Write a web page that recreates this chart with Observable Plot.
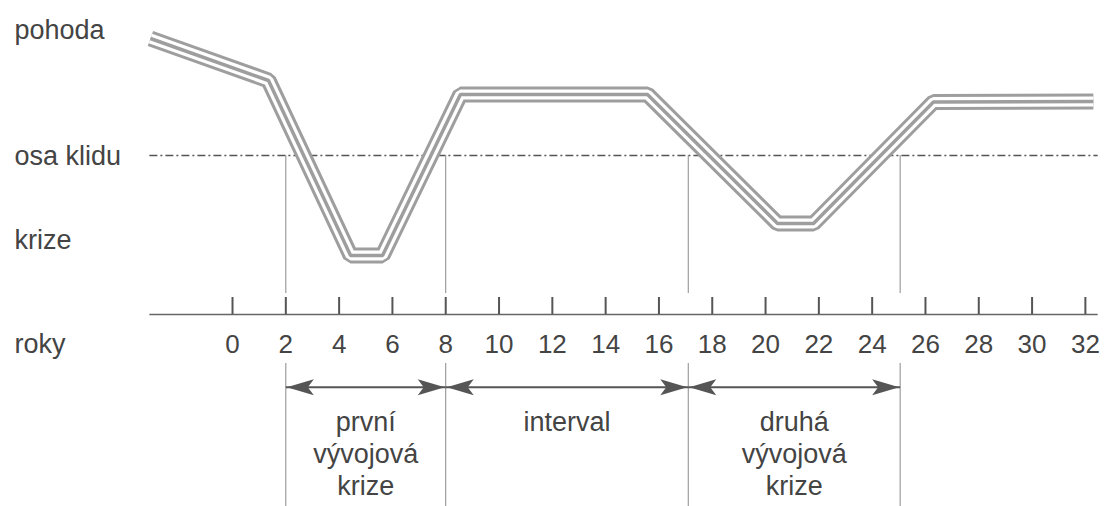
<!DOCTYPE html>
<html>
<head>
<meta charset="utf-8">
<script src="https://cdn.jsdelivr.net/npm/d3@7"></script>
<script src="https://cdn.jsdelivr.net/npm/@observablehq/plot@0.6"></script>
<style>
  html, body { margin: 0; padding: 0; background: #fff; }
  #chart svg { display: block; }
</style>
</head>
<body>
<div id="chart"></div>
<script>
// ---- data ----
// life course line: years vs. level (osa klidu = 0)
const courseYears  = [-3.08, 1.35, 4.43, 5.63, 8.55, 15.57, 20.45, 21.80, 26.30, 32.30];
const courseLevels = [11.7, 7.5, -10.0, -10.0, 6.1, 6.1, -6.8, -6.8, 5.35, 5.4];

// year axis
const yearTicks = [0, 2, 4, 6, 8, 10, 12, 14, 16, 18, 20, 22, 24, 26, 28, 30, 32];

// row labels on the left
const stateLabels = ["pohoda", "osa klidu", "krize", "roky"];
const stateLevels = [12.5, -0.05, -8.5, -18.9];

// phase boundaries (years) and phase names
const boundaries = [2, 8, 17.1, 25.05];
const phaseNames = ["první\nvývojová\nkrize", "interval", "druhá\nvývojová\nkrize"];

// layout levels (in the same units as the y scale)
const restLevel = 0;          // osa klidu
const axisLevel = -15.9;      // year axis line
const tickTopLevel = -14.2;   // top of year ticks
const guideTopEnd = -13.8;    // guides end above the axis
const guideBottomStart = -20.8;
const arrowLevel = -23.17;
const phaseTextLevel = -25.35;
const lineStart = -3.1, lineEnd = 32.48;

// build tables
const course = courseYears.map((x, i) => ({x, y: courseLevels[i]}));
const states = stateLabels.map((t, i) => ({t, y: stateLevels[i]}));
const phases = phaseNames.map((t, i) => ({t, a: boundaries[i], b: boundaries[i + 1]}));

// arrowhead symbols (tip at the origin)
const headLeft = {
  draw(ctx, size) {
    const r = Math.sqrt(size / Math.PI);
    ctx.moveTo(0, 0);
    ctx.lineTo(r * 2.7, -r * 0.8);
    ctx.lineTo(r * 2.1, 0);
    ctx.lineTo(r * 2.7, r * 0.8);
    ctx.closePath();
  }
};
const headRight = {
  draw(ctx, size) {
    const r = Math.sqrt(size / Math.PI);
    ctx.moveTo(0, 0);
    ctx.lineTo(-r * 2.7, -r * 0.8);
    ctx.lineTo(-r * 2.1, 0);
    ctx.lineTo(-r * 2.7, r * 0.8);
    ctx.closePath();
  }
};

const textColor = "#444";
const bandGray = "#9e9e9e";
const font = "'Liberation Sans', Arial, Helvetica, sans-serif";

const chart = Plot.plot({
  width: 1107,
  height: 506,
  marginLeft: 14,
  marginRight: 0,
  marginTop: 0,
  marginBottom: 0,
  style: {fontFamily: font, background: "#fff", overflow: "visible"},
  x: {domain: [-8.18, 32.83], axis: null},
  y: {domain: [-35.1, 15.5], axis: null},
  marks: [
    // rest axis (dash-dot)
    Plot.ruleY([restLevel], {x1: lineStart, x2: lineEnd, stroke: "#555", strokeWidth: 1.3, strokeDasharray: "8,3,2,3"}),
    // phase guides
    Plot.ruleX(boundaries, {y1: restLevel, y2: guideTopEnd, stroke: "#8a8a8a", strokeWidth: 1}),
    Plot.ruleX(boundaries, {y1: guideBottomStart, y2: -35.1, stroke: "#8a8a8a", strokeWidth: 1}),
    // year axis line and ticks
    Plot.ruleY([axisLevel], {x1: lineStart, x2: lineEnd, stroke: "#666", strokeWidth: 1.5}),
    Plot.ruleX(yearTicks, {y1: tickTopLevel, y2: axisLevel, stroke: "#555", strokeWidth: 2}),
    Plot.text(yearTicks, {x: d => d, y: stateLevels[3], text: d => String(d), fontSize: 26, fill: textColor}),
    // row labels
    Plot.text(states, {y: "y", text: "t", frameAnchor: "left", textAnchor: "start", fontSize: 27, fill: textColor}),
    // the triple band line
    Plot.line(course, {x: "x", y: "y", stroke: bandGray, strokeWidth: 16, strokeLinejoin: "miter", strokeLinecap: "butt"}),
    Plot.line(course, {x: "x", y: "y", stroke: "#fff", strokeWidth: 10, strokeLinejoin: "miter", strokeLinecap: "butt"}),
    Plot.line(course, {x: "x", y: "y", stroke: bandGray, strokeWidth: 3.5, strokeLinejoin: "miter", strokeLinecap: "butt"}),
    // double-headed arrows
    Plot.link(phases, {x1: "a", x2: "b", y1: arrowLevel, y2: arrowLevel, stroke: "#555", strokeWidth: 2}),
    Plot.dot(phases, {x: "a", y: arrowLevel, symbol: headLeft, r: 10, fill: "#555", stroke: "none", dx: 1}),
    Plot.dot(phases, {x: "b", y: arrowLevel, symbol: headRight, r: 10, fill: "#555", stroke: "none", dx: -1}),
    // phase names
    Plot.text(phases, {x: d => (d.a + d.b) / 2, y: phaseTextLevel, text: "t", lineAnchor: "top", lineHeight: 1.17, fontSize: 27, fill: textColor})
  ]
});

document.getElementById("chart").appendChild(chart);
</script>
</body>
</html>
